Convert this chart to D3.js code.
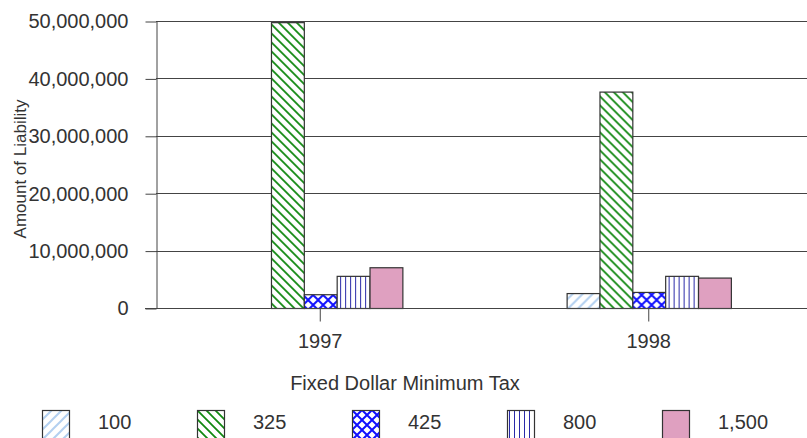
<!DOCTYPE html>
<html>
<head>
<meta charset="utf-8">
<script src="https://cdn.jsdelivr.net/npm/d3@7"></script>
<style>
  html, body { margin: 0; padding: 0; background: #fff; }
  svg { display: block; }
  text { font-family: "Liberation Sans", Arial, sans-serif; fill: #333; }
</style>
</head>
<body>
<svg id="chart" width="807" height="438"></svg>
<script>
// Fixed dollar minimum tax liability by tax level
const years = ["1997", "1998"];
const levels = ["100", "325", "425", "800", "1,500"];
const values100 = [0, 2600000];
const values325 = [49800000, 37700000];
const values425 = [2400000, 2800000];
const values800 = [5600000, 5600000];
const values1500 = [7100000, 5300000];
const yTicks = [0, 10000000, 20000000, 30000000, 40000000, 50000000];

const seriesValues = [values100, values325, values425, values800, values1500];

const svg = d3.select("#chart");
const plotLeft = 156, plotTop = 21, plotBottom = 308, plotRight = 813;

const y = d3.scaleLinear().domain([0, 50000000]).range([plotBottom, plotTop]);
const x = d3.scaleBand().domain(years).range([plotLeft, plotRight]);
const groupW = x.bandwidth() / 2;
const xi = d3.scaleBand().domain(levels).range([0, groupW]);

// Fill patterns
const defs = svg.append("defs");
function hatch(id, size, draw) {
  const p = defs.append("pattern").attr("id", id)
    .attr("patternUnits", "userSpaceOnUse")
    .attr("width", size).attr("height", size);
  p.append("rect").attr("width", size).attr("height", size).attr("fill", "#fff");
  draw(p, size);
}
hatch("p100", 10, (p, s) => {
  p.append("path").attr("d", `M0,${s} L${s},0 M-${s/2},${s/2} L${s/2},-${s/2} M${s/2},${s*1.5} L${s*1.5},${s/2}`)
    .attr("stroke", "#b3d0f0").attr("stroke-width", 2);
});
hatch("p325", 9, (p, s) => {
  p.append("path").attr("d", `M0,0 L${s},${s} M-${s/2},${s/2} L${s/2},${s*1.5} M${s/2},-${s/2} L${s*1.5},${s/2}`)
    .attr("stroke", "#118811").attr("stroke-width", 1.8);
});
hatch("p425", 10, (p, s) => {
  p.append("path").attr("d", `M0,0 L${s},${s} M0,${s} L${s},0`)
    .attr("stroke", "#1010ff").attr("stroke-width", 2);
});
hatch("p800", 5, (p, s) => {
  p.append("path").attr("d", `M2.5,0 L2.5,${s}`)
    .attr("stroke", "#2a2aa8").attr("stroke-width", 1);
});
const fills = ["url(#p100)", "url(#p325)", "url(#p425)", "url(#p800)", "#dfa0c0"];

// Gridlines
svg.append("g").selectAll("line").data(yTicks.filter(d => d > 0)).join("line")
  .attr("x1", plotLeft).attr("x2", plotRight)
  .attr("y1", d => Math.round(y(d)) + 0.5).attr("y2", d => Math.round(y(d)) + 0.5)
  .attr("stroke", "#444").attr("stroke-width", 1);

// Y axis
const yAxis = d3.axisLeft(y).tickValues(yTicks).tickSize(11).tickPadding(17)
  .tickFormat(d3.format(",")).tickSizeOuter(0);
const gy = svg.append("g").attr("transform", `translate(${plotLeft + 0.5},0.5)`).call(yAxis);
gy.select(".domain").attr("stroke", "#444");
gy.selectAll(".tick line").attr("stroke", "#444");
gy.selectAll("text").style("font-size", "20px").attr("fill", "#333")
  .style("font-family", '"Liberation Sans", Arial, sans-serif');

// Bars
const groups = svg.append("g").selectAll("g").data(years).join("g")
  .attr("transform", d => `translate(${x(d) + x.bandwidth() / 4},0)`);
groups.selectAll("rect")
  .data((yr, i) => levels.map((lv, j) => ({ lv, j, v: seriesValues[j][i] })).filter(d => d.v > 0))
  .join("rect")
  .attr("x", d => xi(d.lv) + 0.5)
  .attr("y", d => y(d.v) + 0.5)
  .attr("width", xi.bandwidth())
  .attr("height", d => plotBottom - y(d.v))
  .attr("fill", d => fills[d.j])
  .attr("stroke", "#333").attr("stroke-width", 1.2);

// X axis
const xAxis = d3.axisBottom(x).tickSize(13).tickPadding(12).tickSizeOuter(0);
const gx = svg.append("g").attr("transform", `translate(0,${plotBottom + 0.5})`).call(xAxis);
gx.select(".domain").remove();
gx.append("line").attr("x1", 145).attr("x2", plotRight).attr("y1", 0).attr("y2", 0)
  .attr("stroke", "#444");
gx.selectAll(".tick line").attr("stroke", "#444");
gx.selectAll("text").style("font-size", "20px").attr("fill", "#333")
  .style("font-family", '"Liberation Sans", Arial, sans-serif');

// Axis titles
svg.append("text").attr("x", 405).attr("y", 390).attr("text-anchor", "middle")
  .style("font-size", "20px").text("Fixed Dollar Minimum Tax");
svg.append("text").attr("transform", "translate(26,169) rotate(-90)")
  .attr("text-anchor", "middle").style("font-size", "17px").text("Amount of Liability");

// Legend
const legend = svg.append("g").selectAll("g").data(levels).join("g")
  .attr("transform", (d, i) => `translate(${42 + i * 155},410)`);
legend.append("rect").attr("x", 0.5).attr("y", 0.5).attr("width", 27).attr("height", 32)
  .attr("fill", (d, i) => fills[i]).attr("stroke", "#333").attr("stroke-width", 1.2);
legend.append("text").attr("x", 56).attr("y", 19).style("font-size", "20px").text(d => d);
</script>
</body>
</html>
